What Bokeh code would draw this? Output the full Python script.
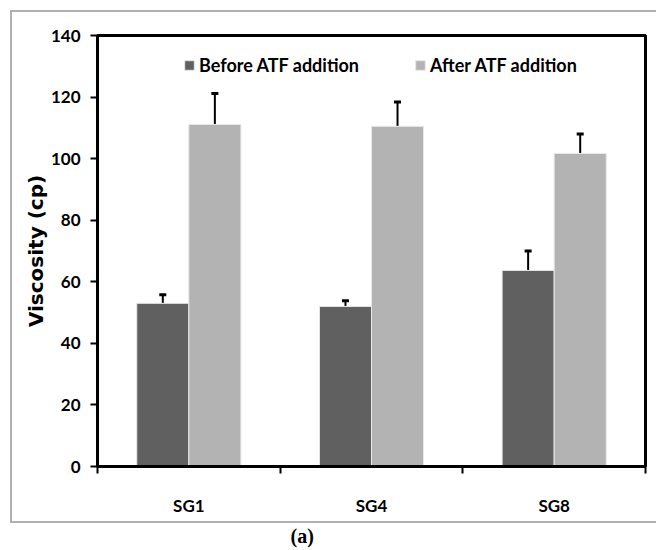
import numpy as np
from bokeh.plotting import figure
from bokeh.models import (ColumnDataSource, FixedTicker, Whisker, TeeHead, Legend,
                          LegendItem, InlineStyleSheet)
from bokeh.embed import file_html
from bokeh.resources import INLINE

# Viscosity of the greases before and after ATF addition
categories = ["SG1", "SG4", "SG8"]
before = [53.0, 52.0, 63.7]
before_err = [2.8, 1.8, 6.3]
after = [111.1, 110.5, 101.7]
after_err = [10.1, 7.9, 6.3]
y_ticks = [0, 20, 40, 60, 80, 100, 120, 140]

NARROW = "Lato"
WIDE = "DejaVu Sans"

DARK = "#606060"
LIGHT = "#b3b3b3"
BAR_W = 0.285

centers = np.arange(len(categories)) + 0.5
src_b = ColumnDataSource(dict(x=centers - BAR_W / 2, top=before,
                              up=np.array(before) + np.array(before_err)))
src_a = ColumnDataSource(dict(x=centers + BAR_W / 2, top=after,
                              up=np.array(after) + np.array(after_err)))

# thin grey panel frame drawn round the chart (open on the right)
panel_css = InlineStyleSheet(css="""
:host::after {
  content: "";
  position: absolute;
  left: 10px; top: 10px; right: 0px; height: 513px;
  border-top: 2px solid #b0b0b0;
  border-left: 2px solid #b0b0b0;
  border-bottom: 2px solid #b0b0b0;
  box-sizing: border-box;
  pointer-events: none;
}
""")

p = figure(width=656, height=550, x_range=(0, len(categories)), y_range=(0, 140),
           output_backend="svg", toolbar_location=None,
           title="(a)", title_location="below",
           min_border_left=97, min_border_right=11, min_border_top=35, min_border_bottom=84,
           stylesheets=[panel_css])
p.background_fill_color = "white"
p.border_fill_color = "white"
p.grid.visible = False
p.outline_line_color = "black"
p.outline_line_width = 3

# figure caption
p.title.text_font = "Liberation Serif"
p.title.text_font_style = "bold"
p.title.text_font_size = "20px"
p.title.text_color = "black"
p.title.align = "left"
p.title.offset = 193
p.title.standoff = 8

rb = p.vbar(x="x", top="top", width=BAR_W, source=src_b, fill_color=DARK,
            line_color="#e8e8e8", line_width=1)
ra = p.vbar(x="x", top="top", width=BAR_W, source=src_a, fill_color=LIGHT,
            line_color="#e8e8e8", line_width=1)

for src in (src_b, src_a):
    w = Whisker(base="x", lower="top", upper="up", source=src,
                line_color="black", line_width=2,
                upper_head=TeeHead(size=7, line_width=3, line_color="black"),
                lower_head=None)
    p.add_layout(w)

# x axis: labels at group centres, ticks on group boundaries
xt = FixedTicker(ticks=list(centers), minor_ticks=list(np.arange(len(categories) + 1)))
p.xaxis.ticker = xt
p.xaxis.major_label_overrides = {float(c): n for c, n in zip(centers, categories)}
p.xaxis.major_tick_out = 0
p.xaxis.major_tick_in = 0
p.xaxis.minor_tick_out = 7
p.xaxis.minor_tick_in = 0
p.xaxis.minor_tick_line_width = 2
p.xaxis.axis_line_width = 3
p.xaxis.major_label_standoff = 21
p.xaxis.major_label_text_font = NARROW
p.xaxis.major_label_text_font_style = "bold"
p.xaxis.major_label_text_font_size = "17px"
p.xaxis.major_label_text_color = "black"

p.yaxis.ticker = FixedTicker(ticks=y_ticks)
p.yaxis.minor_tick_line_color = None
p.yaxis.major_tick_out = 7
p.yaxis.major_tick_in = 0
p.yaxis.major_tick_line_width = 2
p.yaxis.axis_line_width = 3
p.yaxis.major_label_standoff = 10
p.yaxis.major_label_text_font = NARROW
p.yaxis.major_label_text_font_style = "bold"
p.yaxis.major_label_text_font_size = "17px"
p.yaxis.major_label_text_color = "black"
p.yaxis.axis_label = "Viscosity (cp)"
p.yaxis.axis_label_text_font = WIDE
p.yaxis.axis_label_text_font_style = "bold"
p.yaxis.axis_label_text_font_size = "20px"
p.yaxis.axis_label_text_color = "black"
p.yaxis.axis_label_standoff = 0

legend = Legend(items=[LegendItem(label="Before ATF addition", renderers=[rb]),
                       LegendItem(label="After ATF addition", renderers=[ra])],
                orientation="horizontal", location=(86, 390),
                border_line_color=None, background_fill_alpha=0,
                glyph_width=12, glyph_height=12, label_standoff=4, spacing=55,
                padding=0, margin=0,
                label_text_font=NARROW, label_text_font_style="bold",
                label_text_font_size="18px", label_text_color="black")
p.add_layout(legend)

open("out.html", "w").write(file_html(p, INLINE))
